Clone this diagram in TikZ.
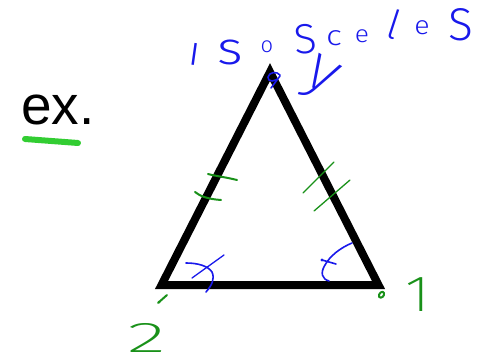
\documentclass[tikz,border=0pt]{standalone}
\usepackage{fontspec}
\setmainfont{Liberation Sans}
\newfontfamily\handL{Fira Sans Light}
\newfontfamily\handX{Fira Sans ExtraLight}
\definecolor{handblue}{RGB}{25,25,235}
\definecolor{handgreen}{RGB}{25,145,25}
\definecolor{limeg}{RGB}{50,205,50}
\tikzset{
  hb/.style={draw=handblue, line width=1.6pt, line cap=round, line join=round},
  hg/.style={draw=handgreen, line width=2pt, line cap=round, line join=round},
  letter/.style={inner sep=0pt, text=handblue},
  gletter/.style={inner sep=0pt, text=handgreen},
}
\newcommand{\fs}[1]{\fontsize{#1}{#1}\selectfont}
\begin{document}
\begin{tikzpicture}[x=1pt,y=-1pt]
\useasboundingbox (0,0) rectangle (481,363);

% triangle
\coordinate (A) at (270,72);
\coordinate (B) at (161.5,285);
\coordinate (C) at (378.5,285);
\draw[line width=8pt, line join=miter] (A) -- (B) -- (C) -- cycle;

% ex.
\node[anchor=base west, inner sep=0pt, font=\fs{55}] (ex) at (21,125) {ex.};
\coordinate (u1) at (25,139);
\coordinate (u2) at (78,143);
\draw[draw=limeg, line width=6pt, line cap=round] (u1) -- (u2);

% isosceles
\node[letter, font=\handL\fs{42}, rotate=-8] (i1) at (195,54) {ı};
\node[letter, font=\handL\fs{46}, xscale=1.2] (s1) at (230,52) {s};
\node[letter, font=\handL\fs{22}] (o1) at (267,47) {o};
\node[letter, font=\handL\fs{42}, rotate=5] (s2) at (306,39) {S};
\node[letter, font=\handL\fs{28}, xscale=1.2] (c1) at (334,38) {c};
\node[letter, font=\handL\fs{24}, xscale=1.1] (e1) at (362,36) {e};
\node[letter, font=\handL\fs{40}, rotate=-18] (l1) at (394,24) {l};
\node[letter, font=\handL\fs{26}, xscale=1.1] (e2) at (422,28) {e};
\node[letter, font=\handL\fs{46}] (s3) at (461,25) {S};

% apex label
\draw[hb] (280,75) .. controls (277,71) and (269,72) .. (268,77) .. controls (267,82) and (276,83) .. (280,76) -- (271,88);
\node[letter, font=\handX\fs{64}, rotate=-30] (y1) at (314,89) {\smash{y}};

% base angle marks
\draw[hb] (186,263) .. controls (198,263) and (208,266) .. (212,272) .. controls (215,279) and (212,285) .. (206,292);
\draw[hb, line width=1.3pt] (192,278) -- (224,255);
\draw[hb] (352,243) .. controls (340,248) and (330,256) .. (325,265) .. controls (320,273) and (322,279) .. (329,281);
\draw[hb] (322,260) -- (336,264);
\fill[handblue] (322,260) circle (1.6);

% congruence ticks
\draw[hg] (208,174) .. controls (215,176) and (225,177) .. (237,180);
\draw[hg] (195,192) .. controls (200,196) and (207,199) .. (221,200);
\draw[hg, line width=1.3pt] (303,193) -- (334,162);
\draw[hg, line width=1.3pt] (314,211) -- (350,180);

% vertex scribbles
\draw[hg] (158,303) -- (167,295);
\fill[handgreen] (159,302) circle (1.5);
\draw[hg] (379,297) .. controls (378,293) and (383,290) .. (384,293) .. controls (385,296) and (381,299) .. (379,297);

% numbers
\node[gletter, font=\handX\fs{43}, xscale=1.9] (n2) at (147,338) {2};
\node[gletter, font=\handX\fs{51}, xscale=1.2] (n1) at (418,295) {1};
\end{tikzpicture}
\end{document}
